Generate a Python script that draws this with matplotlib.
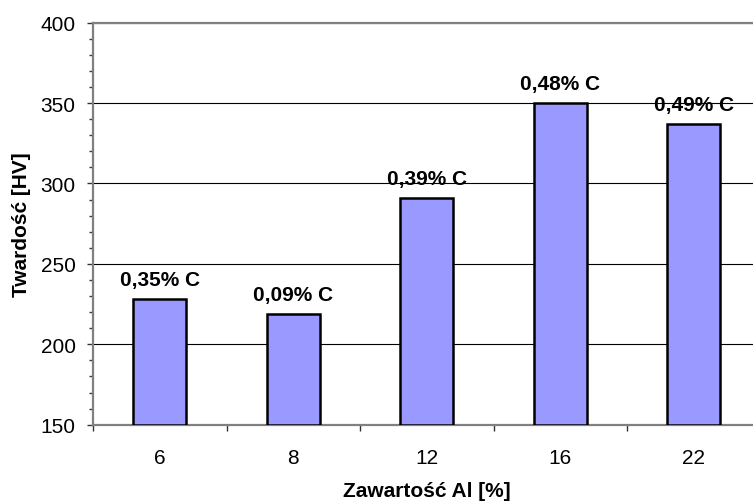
import numpy as np
import matplotlib
matplotlib.use("Agg")
from matplotlib import pyplot as plt
from matplotlib.ticker import MultipleLocator, FixedLocator

# zawartość Al [%] i twardość HV
aluminium = ["6", "8", "12", "16", "22"]
hardness = [228, 219, 291, 350, 337]
carbon = ["0,35% C", "0,09% C", "0,39% C", "0,48% C", "0,49% C"]

plt.rcParams['font.family'] = ['Liberation Sans', 'DejaVu Sans']
fs = 15

fig = plt.figure(figsize=(7.53, 5.02), dpi=100)
ax = fig.add_axes([0.1235, 0.152, 0.8865, 0.801])

x = np.arange(len(aluminium))
bars = ax.bar(x, np.array(hardness) - 150, bottom=150, width=0.4,
              color="#9999FF", edgecolor="black", linewidth=1.8, zorder=3)

for xi, h, lab in zip(x, hardness, carbon):
    ax.annotate(lab, (xi, h), xytext=(0, 10), textcoords="offset points",
                ha="center", va="baseline", fontsize=fs, fontweight="bold",
                zorder=4)

ax.set_xlim(-0.5, len(aluminium) - 0.5)
ax.set_ylim(150, 400)

ax.set_xticks(x)
ax.set_xticklabels(aluminium)
ax.xaxis.set_minor_locator(FixedLocator(np.arange(-0.5, len(aluminium), 1.0)))
ax.tick_params(axis="x", which="major", length=0, pad=17, labelsize=fs)
ax.tick_params(axis="x", which="minor", direction="out", length=4.5,
               width=1, color="#333333")

ax.yaxis.set_major_locator(MultipleLocator(50))
ax.yaxis.set_minor_locator(MultipleLocator(10))
ax.tick_params(axis="y", which="major", direction="out", length=4.5,
               width=1, color="#333333", pad=8, labelsize=fs)
ax.tick_params(axis="y", which="minor", direction="out", length=3,
               width=1, color="#333333")

ax.yaxis.grid(True, which="major", color="black", linewidth=0.8, zorder=1)
ax.set_axisbelow(True)

for side in ["left", "bottom", "top", "right"]:
    ax.spines[side].set_color("#808080")
    ax.spines[side].set_linewidth(1.6)

ax.set_xlabel("Zawartość Al [%]", fontsize=fs, fontweight="bold")
ax.set_ylabel("Twardość [HV]", fontsize=fs, fontweight="bold")
ax.xaxis.set_label_coords(0.5, -0.14)
ax.yaxis.set_label_coords(-0.093, 0.5)

fig.savefig("out.png", dpi=100)
